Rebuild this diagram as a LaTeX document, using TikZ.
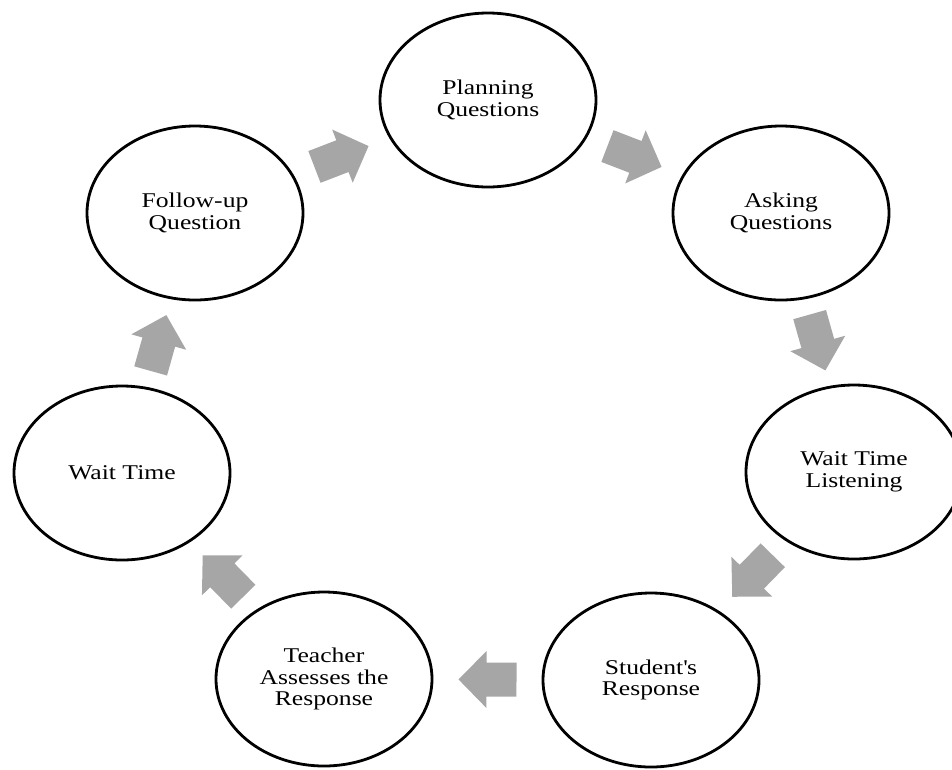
\documentclass[tikz,border=0pt]{standalone}
\usepackage{fontspec}
\setmainfont{Liberation Serif}[FakeStretch=1.22]
\usetikzlibrary{shapes.geometric,calc}
\definecolor{arrowgray}{RGB}{166,166,166}
\begin{document}
\begin{tikzpicture}[x=1pt,y=-1pt,
  stage/.style={ellipse, draw=black, line width=2.8pt, minimum width=216pt,
    minimum height=174pt, inner sep=0pt, align=center, text=black,
    font=\fontsize{21}{21.5}\selectfont},
  pics/blockarrow/.style={code={
    \fill[arrowgray] (-29pt,-17pt) -- (1pt,-17pt) -- (1pt,-28.5pt) -- (29pt,0pt)
      -- (1pt,28.5pt) -- (1pt,17pt) -- (-29pt,17pt) -- cycle;}}]
\clip (0,0) rectangle (952,769);
\fill[white] (0,0) rectangle (952,769);
\node[stage] (plan)   at (488,100) {Planning\\Questions};
\node[stage] (ask)    at (781,213) {Asking\\Questions};
\node[stage] (wtl)    at (854,472) {Wait Time\\Listening};
\node[stage] (stud)   at (651,680) {Student\textquotesingle s\\Response};
\node[stage] (teach)  at (324,679) {Teacher\\Assesses the\\Response};
\node[stage] (wait)   at (122,473) {Wait Time};
\node[stage] (follow) at (195,213) {Follow-up\\Question};
\foreach \a/\b in {plan/ask, ask/wtl, wtl/stud, stud/teach, teach/wait, wait/follow, follow/plan}
  \path let \p1=($(\b.center)-(\a.center)$), \n1={atan2(\y1,\x1)} in
    pic[rotate=\n1] at ($(\a.center)!0.5!(\b.center)$) {blockarrow};
\end{tikzpicture}
\end{document}
